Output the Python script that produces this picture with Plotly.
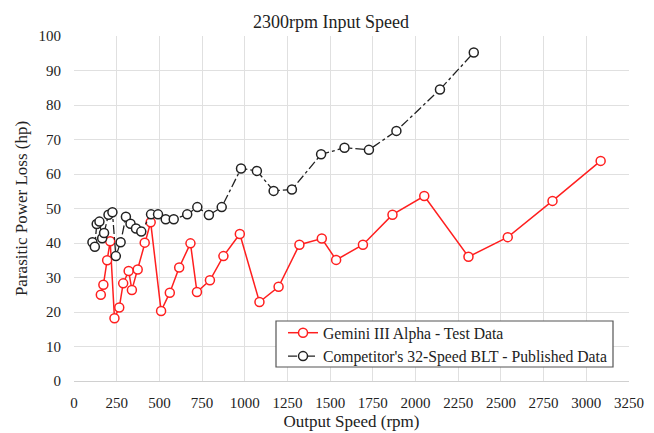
import plotly.graph_objects as go

gemini_x = [157, 172, 194, 212, 237, 265, 288, 320, 339, 373, 414, 449, 510, 561, 616, 682, 720, 796, 875,
            971, 1086, 1198, 1320, 1451, 1535, 1692, 1865, 2051, 2310, 2540, 2802, 3084]
gemini_y = [25.0, 27.9, 35.0, 40.5, 18.2, 21.3, 28.3, 31.9, 26.4, 32.3, 40.1, 46.0, 20.3, 25.6, 32.9, 39.9, 25.8, 29.2, 36.2,
            42.6, 22.9, 27.3, 39.5, 41.3, 35.1, 39.5, 48.2, 53.6, 36.0, 41.7, 52.2, 63.8]

comp_x = [108, 122, 133, 149, 165, 176, 202, 225, 245, 273, 304, 331, 363, 394, 451, 492, 537, 584, 663, 722, 790, 865,
          978, 1071, 1169, 1276, 1447, 1584, 1727, 1888, 2143, 2341]
comp_y = [40.2, 38.9, 45.5, 46.2, 41.4, 42.9, 48.2, 48.9, 36.2, 40.2, 47.6, 45.6, 44.2, 43.3, 48.3, 48.3, 46.9, 46.9, 48.3, 50.4, 48.1, 50.4,
          61.6, 60.9, 55.1, 55.5, 65.7, 67.6, 67.0, 72.5, 84.5, 95.2]

x_ticks = list(range(0, 3251, 250))
y_ticks = list(range(0, 101, 10))

FONT = "Times New Roman, Liberation Serif, serif"

fig = go.Figure()
fig.add_trace(go.Scatter(
    x=gemini_x, y=gemini_y, mode="lines+markers", name="Gemini III Alpha - Test Data", legendgroup="a",
    line=dict(color="#FF1F1F", width=1.5),
    marker=dict(symbol="circle", size=9, color="white", line=dict(color="#FF1F1F", width=1.5)),
))
fig.add_trace(go.Scatter(
    x=comp_x, y=comp_y, mode="lines+markers", name="Competitor's 32-Speed BLT - Published Data", legendgroup="b",
    line=dict(color="#222222", width=1.3, dash="dashdot"),
    marker=dict(symbol="circle", size=9, color="white", line=dict(color="#222222", width=1.5)),
))

# page body has an 8px default margin, so the figure is shifted by 8px
fig.update_layout(
    width=646, height=425,
    margin=dict(l=66, r=25, t=28, b=52, autoexpand=False),
    paper_bgcolor="white", plot_bgcolor="white",
    font=dict(family=FONT, size=15, color="#222222"),
    title=dict(text="2300rpm Input Speed", xref="paper", x=0.463, xanchor="center",
               y=1 - 14 / 425, yanchor="middle",
               font=dict(family=FONT, size=18, color="#222222")),
    legend=dict(x=0.3766, y=0.1884, xanchor="left", yanchor="top", bgcolor="rgba(0,0,0,0)",
                borderwidth=0, font=dict(family=FONT, size=15.7, color="#222222"),
                tracegroupgap=0, itemwidth=30),
    showlegend=True,
)
fig.update_xaxes(
    range=[0, 3250], tickmode="array", tickvals=x_ticks, ticktext=[str(v) for v in x_ticks],
    showgrid=True, gridcolor="#E0E0E0", gridwidth=1, zeroline=False, automargin=False,
    showline=True, linecolor="#D0D0D0", mirror=False, ticks="", ticklabelstandoff=8,
    title=dict(text="Output Speed (rpm)", font=dict(family=FONT, size=17), standoff=5),
    tickfont=dict(family=FONT, size=15),
)
fig.update_yaxes(
    range=[0, 100], tickmode="array", tickvals=y_ticks, ticktext=[str(v) for v in y_ticks],
    showgrid=True, gridcolor="#E0E0E0", gridwidth=1, zeroline=False, automargin=False,
    showline=False, ticks="", ticklabelstandoff=12,
    title=dict(text="Parasitic Power Loss (hp)", font=dict(family=FONT, size=17), standoff=6),
    tickfont=dict(family=FONT, size=15),
)
# legend frame (plot area spans 555 x 345 px, starting at page x=74, y=36)
fig.add_shape(type="rect", xref="paper", yref="paper",
              x0=(276 - 74) / 555, x1=(613 - 74) / 555, y0=(381 - 367) / 345, y1=(381 - 321) / 345,
              line=dict(color="#555555", width=1.2), fillcolor="white", layer="above")
# outer frame
fig.add_shape(type="rect", xref="paper", yref="paper", x0=-0.1225, x1=1.0378, y0=-0.2, y1=1.0928,
              line=dict(color="#555555", width=1.2), fillcolor="rgba(0,0,0,0)", layer="above")

fig.write_html("out.html")
